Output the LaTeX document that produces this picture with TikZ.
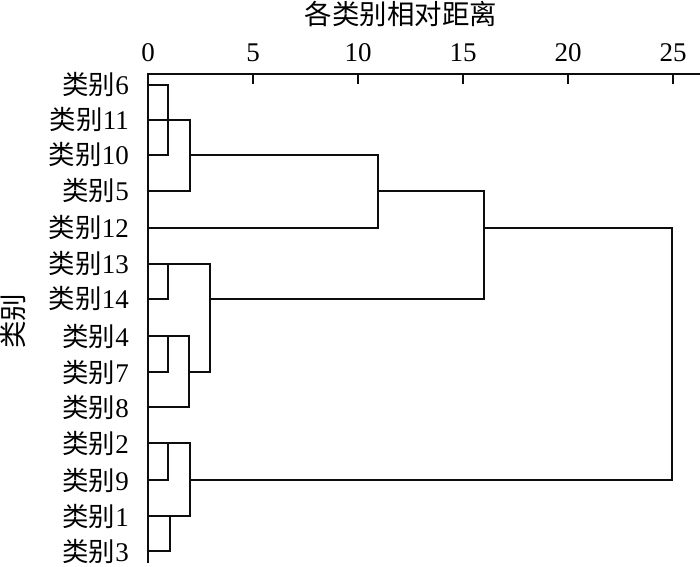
\documentclass[tikz,border=0pt]{standalone}
\usepackage{fontspec}
\setmainfont{Liberation Serif}
\newfontfamily\cjk[Scale=0.98]{Noto Sans CJK SC}
\newcommand{\lbl}[1]{{\cjk 类别}#1}
\begin{document}
\begin{tikzpicture}[x=1pt,y=-1pt,
  ln/.style={line width=2.1pt,line cap=rect,black!95},
  leaf/.style={anchor=east,inner sep=0pt,font=\fontsize{27}{29}\selectfont},
  tick/.style={anchor=center,inner sep=0pt,font=\fontsize{27}{29}\selectfont}]
\useasboundingbox (0,0) rectangle (700,566);
% title
\node[tick,font=\fontsize{28}{30}\selectfont] (title) at (401,14) {\cjk 各类别相对距离};
\node[tick,font=\fontsize{28}{30}\selectfont,rotate=90] (ylab) at (13,321) {\cjk 类别};
% axes
\coordinate (o) at (148,74);
\coordinate (xe) at (700,74);
\coordinate (yb) at (148,562);
\draw[ln] (xe) -- (o) -- (yb);
\foreach \v/\xx in {0/148,5/253,10/358,15/463,20/568,25/673}{
  \node[tick,anchor=base] (t\v) at (\xx,61) {\v};
  \ifnum\v>0 \draw[ln] (\xx,74) -- (\xx,83);\fi
}
% leaf labels
\foreach \name/\yy in {6/85,11/120,10/155,5/191,12/228,13/264,14/299,4/336,7/372,8/407,2/443,9/480,1/516,3/551}{
  \node[leaf] (L\name) at (129,\yy) {\lbl{\name}};
}
% top cluster
\draw[ln] (148,85) -- (168,85) -- (168,155) -- (148,155);
\draw[ln] (148,120) -- (190,120) -- (190,191) -- (148,191);
\draw[ln] (190,155) -- (378,155);
\draw[ln] (378,155) -- (378,228) -- (148,228);
\draw[ln] (378,191) -- (484,191) -- (484,299) -- (210,299);
% middle cluster
\draw[ln] (148,264) -- (210,264) -- (210,372) -- (189,372);
\draw[ln] (168,264) -- (168,299) -- (148,299);
\draw[ln] (148,336) -- (189,336) -- (189,407) -- (148,407);
\draw[ln] (168,336) -- (168,372) -- (148,372);
% bottom cluster
\draw[ln] (148,443) -- (190,443) -- (190,516) -- (148,516);
\draw[ln] (168,443) -- (168,480) -- (148,480);
\draw[ln] (170,516) -- (170,551) -- (148,551);
% root
\draw[ln] (484,228) -- (672,228) -- (672,480) -- (190,480);
\end{tikzpicture}
\end{document}
